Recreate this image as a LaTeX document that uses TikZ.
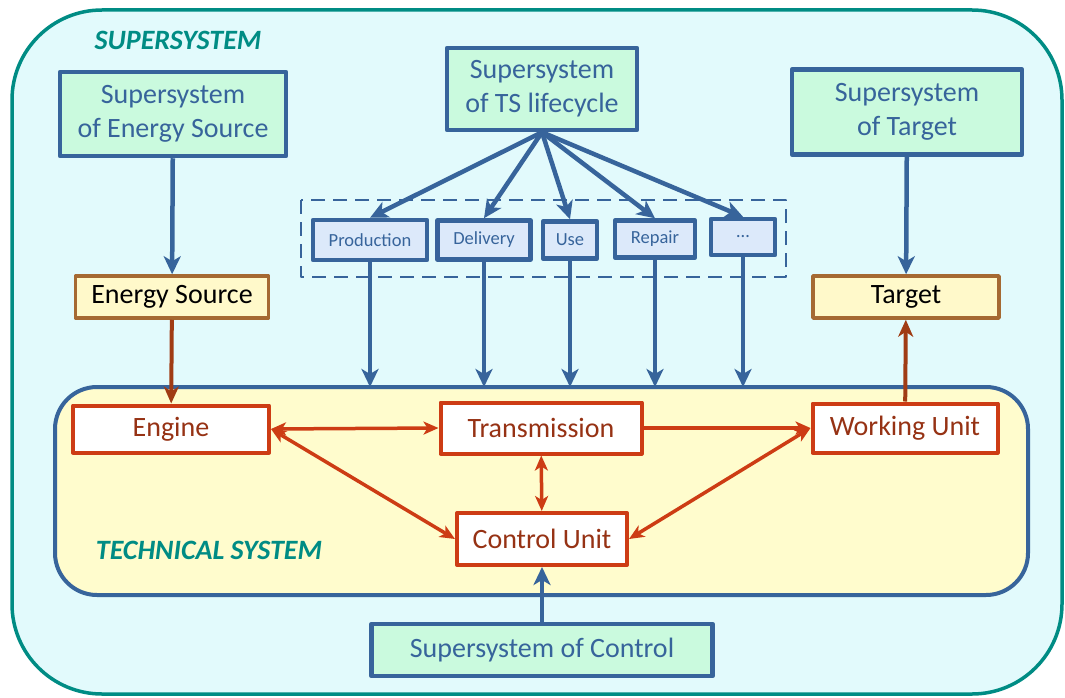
\documentclass[tikz,border=0pt]{standalone}
\usepackage{fontspec}
\setmainfont{Carlito}
\usetikzlibrary{arrows.meta}

\definecolor{teal1}{RGB}{0,140,132}
\definecolor{superfill}{RGB}{226,250,252}
\definecolor{sysblue}{RGB}{55,100,155}
\definecolor{mint}{RGB}{202,250,222}
\definecolor{stagefill}{RGB}{220,233,250}
\definecolor{techfill}{RGB}{255,252,205}
\definecolor{srcfill}{RGB}{255,249,202}
\definecolor{srcbrown}{RGB}{165,105,50}
\definecolor{partred}{RGB}{205,60,20}
\definecolor{parttext}{RGB}{150,50,20}
\definecolor{linkbrown}{RGB}{160,60,20}

\tikzset{
  bigtext/.style={font=\fontsize{28}{34}\selectfont},
  superbox/.style={draw=sysblue, line width=4.5pt, fill=mint, text=sysblue,
    bigtext, align=center, inner sep=0pt},
  stagebox/.style={draw=sysblue, line width=4.5pt, fill=stagefill, text=sysblue,
    font=\fontsize{18.5}{22}\selectfont, inner sep=0pt},
  srcbox/.style={draw=srcbrown, line width=3.5pt, fill=srcfill, text=black,
    bigtext, inner sep=0pt},
  partbox/.style={draw=partred, line width=4pt, fill=white, text=parttext,
    bigtext, inner sep=0pt},
  tag/.style={text=teal1, font=\fontsize{28}{34}\selectfont\bfseries\itshape},
  barrow/.style={draw=sysblue, line width=4.5pt, -{Stealth[length=18pt,width=17pt,inset=5pt]}},
  rarrow/.style={draw=linkbrown, line width=4pt, -{Stealth[length=17pt,width=15pt,inset=5pt]}},
  redtip/.tip={Stealth[length=15pt,width=13pt,inset=4pt]},
  redlink/.style={draw=partred, line width=3.5pt, redtip-redtip},
}

\begin{document}
\begin{tikzpicture}[x=1pt, y=-1pt, line join=round]

\useasboundingbox (0,0) rectangle (1065,698);

% --- Outer frame (supersystem) ---
\draw[teal1, line width=3.5pt, fill=superfill, rounded corners=90pt]
  (12,10) rectangle (1062,694);
\node[tag] (suplabel) at (178,40) {SUPERSYSTEM};

% --- Technical system frame ---
\draw[sysblue, line width=4pt, fill=techfill, rounded corners=42pt]
  (55,387) rectangle (1028,595);
\coordinate (tstop) at (541,387);
\node[tag] (techlabel) at (209,550) {TECHNICAL SYSTEM};

% --- Supersystem boxes ---
\node[superbox, minimum width=226pt, minimum height=84pt] (sse) at (173,114)
  {Supersystem\\of Energy Source};
\node[superbox, minimum width=190pt, minimum height=82pt] (sslc) at (542,89)
  {Supersystem\\of TS lifecycle};
\node[superbox, minimum width=230pt, minimum height=85pt] (sst) at (907,112)
  {Supersystem\\of Target};
\node[superbox, minimum width=341pt, minimum height=52pt] (ssc) at (542,650)
  {Supersystem of Control};

% --- Lifecycle stages ---
\draw[sysblue, line width=2.5pt, dash pattern=on 14pt off 8pt] (301,200) rectangle (786,277);
\node[stagebox, minimum width=114pt, minimum height=40pt] (prod)   at (370,240) {Production};
\node[stagebox, minimum width=93pt,  minimum height=39pt] (deliv)  at (484,240) {Delivery};
\node[stagebox, minimum width=54pt,  minimum height=37pt] (use)    at (570,240) {Use};
\node[stagebox, minimum width=80pt,  minimum height=37pt] (repair) at (655,239) {Repair};
\node[stagebox, minimum width=64pt,  minimum height=36pt] (more)   at (743,237) {\dots};

% --- Energy source and target ---
\node[srcbox, minimum width=193pt, minimum height=42pt] (es)  at (172,297) {Energy Source};
\node[srcbox, minimum width=186pt, minimum height=42pt] (tgt) at (906,297) {Target};

% --- Parts of the technical system ---
\node[partbox, minimum width=196pt, minimum height=47pt] (engine) at (171,429) {Engine};
\node[partbox, minimum width=201pt, minimum height=51pt] (trans)  at (541,428) {Transmission};
\node[partbox, minimum width=185pt, minimum height=49pt] (wu)     at (905,428) {Working Unit};
\node[partbox, minimum width=170pt, minimum height=52pt] (cu)     at (542,539) {Control Unit};

% --- Supersystem links ---
\draw[barrow] (sse) -- (es);
\draw[barrow] (sst) -- (tgt);
\draw[barrow] (ssc) -- (cu);
\foreach \s in {prod,deliv,use,repair,more}{
  \draw[barrow] (sslc.south) -- (\s.north);
  \draw[barrow] (\s.south) -- (\s.south |- tstop);
}

% --- Energy in, function out ---
\draw[rarrow] (es) -- (engine);
\draw[rarrow] (wu) -- (tgt);

% --- Links inside the system ---
\draw[redlink] (engine.east) -- (trans.west);
\draw[redlink] (engine.east) -- (cu.west);
\draw[redlink] (trans) -- (cu);
\draw[redlink] (cu.east) -- (wu.west);
\draw[draw=partred, line width=3.5pt, -redtip] (trans.east) -- (wu.west);

\end{tikzpicture}
\end{document}
